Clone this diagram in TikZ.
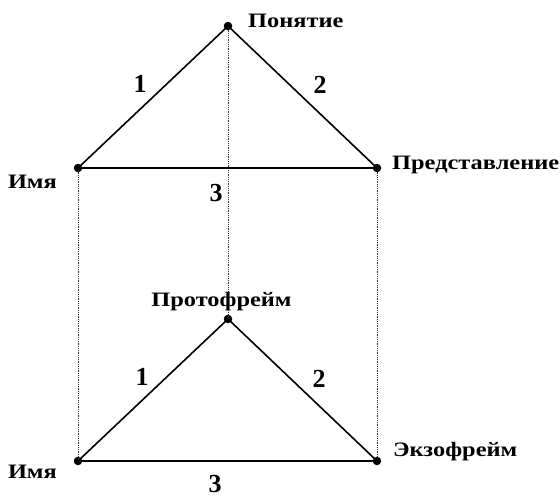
\documentclass[tikz,border=0pt]{standalone}
\usepackage{fontspec}
\setmainfont{Liberation Serif}[FakeStretch=1.19]
\newfontfamily\digitfont{Liberation Serif}
\usetikzlibrary{positioning}

\begin{document}
\begin{tikzpicture}[x=1pt, y=-1pt,
        pt/.style={circle, fill, inner sep=0pt, minimum size=8.5pt},
        lbl/.style={font=\bfseries\fontsize{20.5}{21}\selectfont, inner sep=0pt},
        num/.style={font=\digitfont\bfseries\fontsize{26}{26}\selectfont, inner sep=0pt},
        side/.style={line width=1.6pt},
        guide/.style={densely dotted, line width=0.8pt, black!80}]
        \useasboundingbox (0,0) rectangle (560,498);

        % Points
        \node[pt] (concept) at (228,26) {};
        \node[pt] (nameT) at (78,168) {};
        \node[pt] (repr) at (377,168) {};
        \node[pt] (proto) at (228,319) {};
        \node[pt] (nameB) at (78,461) {};
        \node[pt] (exo) at (377,461) {};

        % Guides
        \draw[guide] (concept.center) -- (proto.center);
        \draw[guide] (nameT.center) -- (nameB.center);
        \draw[guide] (repr.center) -- (exo.center);

        % Triangles
        \draw[side] (nameT.center) -- (concept.center) -- (repr.center) -- cycle;
        \draw[side] (nameB.center) -- (proto.center) -- (exo.center) -- cycle;

        % Labels
        \node[lbl, anchor=base west] (tConcept) at (248,27) {Понятие};
        \node[lbl, anchor=base east] (tNameT) at (57,188) {Имя};
        \node[lbl, anchor=base west] (tRepr) at (392,169) {Представление};
        \node[lbl, anchor=base] (tProto) at (221.5,306.5) {Протофрейм};
        \node[lbl, anchor=base west] (tExo) at (393,456) {Экзофрейм};
        \node[lbl, anchor=base east] (tNameB) at (57,478) {Имя};

        % Numbers
        \node[num] (n1T) at (140,84) {1};
        \node[num] (n2T) at (320,84.5) {2};
        \node[num] (n3T) at (216,193) {3};
        \node[num] (n1B) at (142,377) {1};
        \node[num] (n2B) at (319,378.5) {2};
        \node[num] (n3B) at (215,484.5) {3};
    \end{tikzpicture}
\end{document}
